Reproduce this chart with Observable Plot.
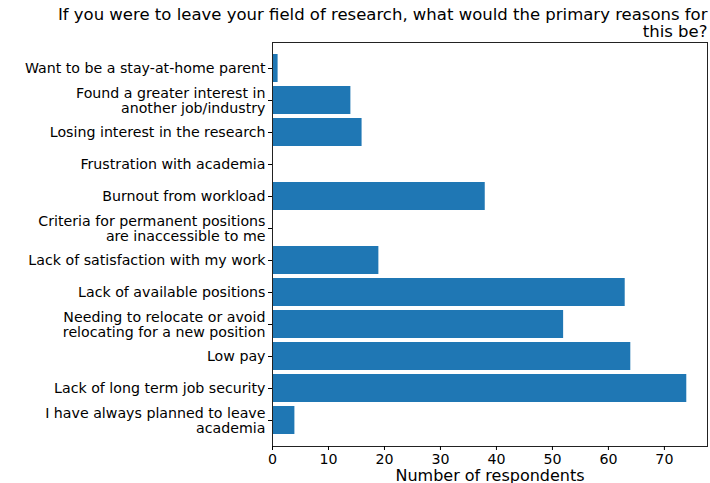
<!DOCTYPE html>
<html><head><meta charset="utf-8">
<script src="https://cdn.jsdelivr.net/npm/d3@7"></script>
<script src="https://cdn.jsdelivr.net/npm/@observablehq/plot@0.6"></script>
<style>body{margin:0;background:#fff}</style>
</head><body><div id="chart"></div>
<script>
const title = "If you were to leave your field of research, what would the primary reasons for\nthis be?";
const reasons = [
  "Want to be a stay-at-home parent",
  "Found a greater interest in\nanother job/industry",
  "Losing interest in the research",
  "Frustration with academia",
  "Burnout from workload",
  "Criteria for permanent positions\nare inaccessible to me",
  "Lack of satisfaction with my work",
  "Lack of available positions",
  "Needing to relocate or avoid\nrelocating for a new position",
  "Low pay",
  "Lack of long term job security",
  "I have always planned to leave\nacademia"
];
const counts = [1, 14, 16, 0, 38, 0, 19, 63, 52, 64, 74, 4];
const xTicks = [0, 10, 20, 30, 40, 50, 60, 70];
const xLabel = "Number of respondents";

const data = reasons.map((r, i) => ({reason: r, count: counts[i]}));

const chart = Plot.plot({
  width: 710, height: 483,
  marginTop: 42, marginBottom: 37, marginLeft: 272, marginRight: 3,
  style: {fontFamily: "DejaVu Sans", fontSize: "14px", color: "#000", background: "#fff"},
  x: {domain: [0, 77.7]},
  y: {domain: reasons, paddingInner: 0.13, paddingOuter: 0.25},
  marks: [
    Plot.barX(data, {x: "count", y: "reason", fill: "#1f77b4"}),
    Plot.frame({stroke: "#222", strokeWidth: 1}),
    Plot.axisX({ticks: xTicks, tickSize: 4, tickPadding: 3.5, label: null, fontSize: 14.2}),
    Plot.axisY({tickSize: 4, tickPadding: 3, label: null, lineHeight: 1.06, fontSize: 14.2}),
    Plot.text([title], {text: d => d, frameAnchor: "top-right", textAnchor: "end", lineAnchor: "bottom", dy: -6, fontSize: 16.5, lineHeight: 1.0, fill: "#000"}),
    Plot.text([xLabel], {text: d => d, frameAnchor: "bottom", textAnchor: "middle", lineAnchor: "bottom", dy: 34, fontSize: 16, fill: "#000"})
  ]
});
document.getElementById("chart").appendChild(chart);
</script>
</body></html>
